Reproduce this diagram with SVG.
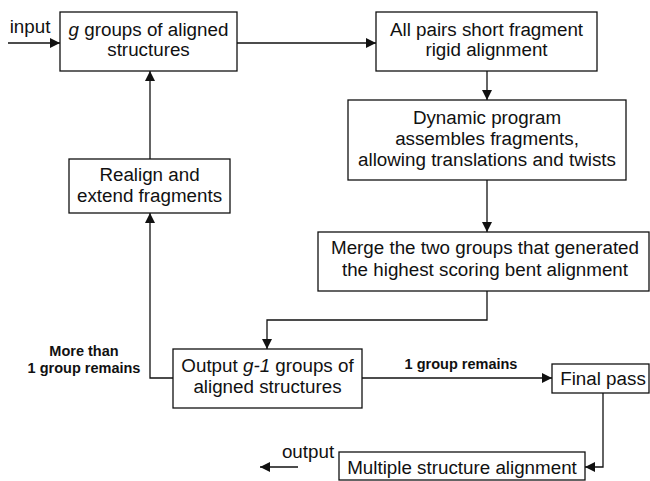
<svg xmlns="http://www.w3.org/2000/svg" width="650" height="481" viewBox="0 0 650 481">
<style>
.box{fill:#fff;stroke:#111;stroke-width:1.3}
.t{font-family:"Liberation Sans",Arial,sans-serif;font-size:18.8px;fill:#111;text-anchor:middle}
.b{font-family:"Liberation Sans",Arial,sans-serif;font-size:14.5px;font-weight:bold;fill:#111;text-anchor:middle}
.c{fill:none;stroke:#111;stroke-width:1.3}
</style>
<defs>
<marker id="ah" viewBox="0 0 10 10" refX="10" refY="5" markerWidth="10" markerHeight="10" markerUnits="userSpaceOnUse" orient="auto">
<path d="M0,0 L10,5 L0,10 Z" fill="#111"/>
</marker>
</defs>
<rect width="650" height="481" fill="#fff"/>
<g id="connectors">
<path class="c" d="M8,43 H60" marker-end="url(#ah)"/>
<path class="c" d="M237,43 H376" marker-end="url(#ah)"/>
<path class="c" d="M487,71 V100" marker-end="url(#ah)"/>
<path class="c" d="M487,180 V232" marker-end="url(#ah)"/>
<path class="c" d="M487,291 V320 H267 V349" marker-end="url(#ah)"/>
<path class="c" d="M362,378 H552" marker-end="url(#ah)"/>
<path class="c" d="M173,378 H150 V213" marker-end="url(#ah)"/>
<path class="c" d="M150,159 V71" marker-end="url(#ah)"/>
<path class="c" d="M603,393 V467 H585" marker-end="url(#ah)"/>
<path class="c" d="M298,467 H260" stroke-width="2" marker-end="url(#ah)"/>
<text class="t" x="30" y="33">input</text>
<text class="t" x="308" y="458">output</text>
<text class="b" x="461" y="369">1 group remains</text>
<text class="b" x="84" y="356">More than</text>
<text class="b" x="84" y="373">1 group remains</text>
</g>
<g id="n1">
<rect class="box" x="60" y="12" width="177" height="59"/>
<text class="t" x="148.5" y="36"><tspan font-style="italic">g</tspan> groups of aligned</text>
<text class="t" x="148.5" y="56">structures</text>
</g>
<g id="n2">
<rect class="box" x="376" y="12" width="221" height="59"/>
<text class="t" x="486.5" y="36">All pairs short fragment</text>
<text class="t" x="486.5" y="56">rigid alignment</text>
</g>
<g id="n3">
<rect class="box" x="348" y="100" width="278" height="80" stroke-width="1.7"/>
<text class="t" x="487" y="124">Dynamic program</text>
<text class="t" x="487" y="145">assembles fragments,</text>
<text class="t" x="487" y="166">allowing translations and twists</text>
</g>
<g id="n4">
<rect class="box" x="318" y="232" width="331" height="59"/>
<text class="t" x="485" y="254">Merge the two groups that generated</text>
<text class="t" x="485" y="276">the highest scoring bent alignment</text>
</g>
<g id="n5">
<rect class="box" x="173" y="349" width="189" height="59"/>
<text class="t" x="267.5" y="372">Output <tspan font-style="italic">g-1</tspan> groups of</text>
<text class="t" x="267.5" y="393">aligned structures</text>
</g>
<g id="n6">
<rect class="box" x="552" y="364" width="97" height="29"/>
<text class="t" x="603" y="385">Final pass</text>
</g>
<g id="n7">
<rect class="box" x="339" y="452" width="246" height="28"/>
<text class="t" x="462" y="474">Multiple structure alignment</text>
</g>
<g id="n8">
<rect class="box" x="69" y="159" width="161" height="54"/>
<text class="t" x="149.5" y="181">Realign and</text>
<text class="t" x="149.5" y="202">extend fragments</text>
</g>
</svg>
